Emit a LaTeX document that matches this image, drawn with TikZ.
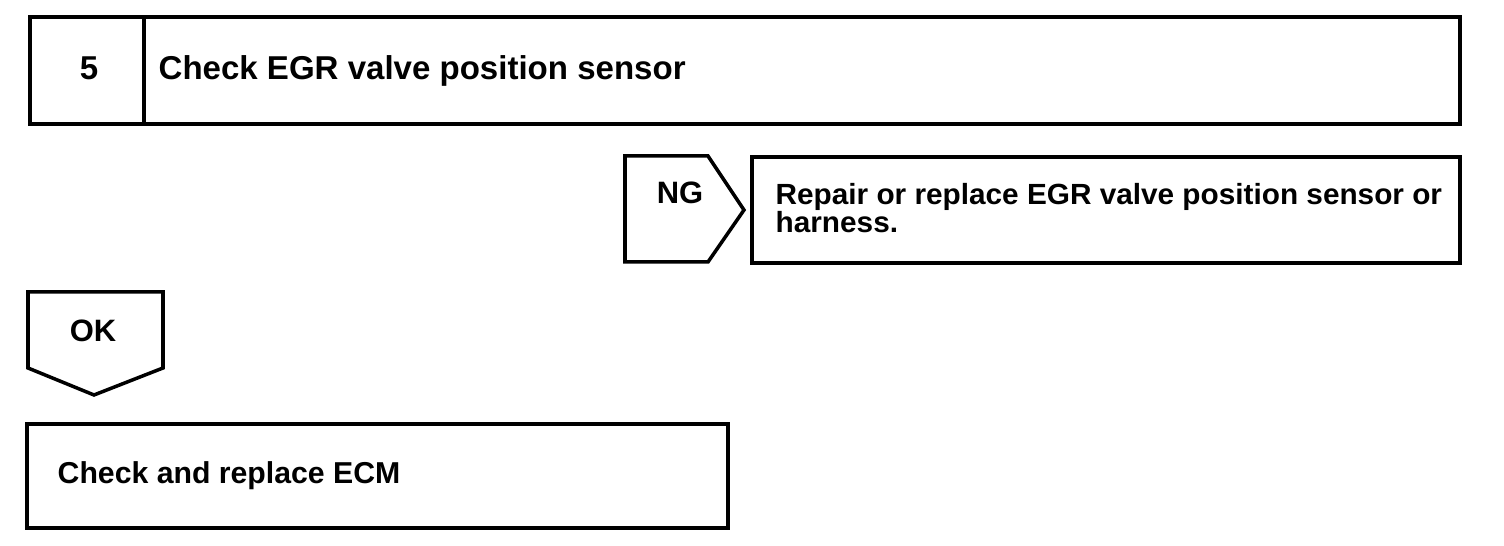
\documentclass[tikz,border=0pt]{standalone}
\usepackage{fontspec}
\setmainfont{Liberation Sans}
\usetikzlibrary{positioning}
\tikzset{font=\bfseries\fontsize{9.4}{11}\selectfont}
\tikzset{frame/.style={line width=1pt,line join=miter}}
\tikzset{label/.style={inner sep=0pt,anchor=base west}}
\tikzset{tag/.style={inner sep=0pt,anchor=base,font=\bfseries\fontsize{8.8}{10}\selectfont}}
\tikzset{small/.style={font=\bfseries\fontsize{8.3}{7.7}\selectfont}}

\begin{document}
\begin{tikzpicture}[x=0.1mm,y=-0.1mm]
  \useasboundingbox (0,0) rectangle (1504,546);
  % step 5
  \draw[frame] (30,17) rectangle (1460,124);
  \draw[frame] (144,17) -- (144,124);
  \node[inner sep=0pt,anchor=base] (num) at (89,80) {5};
  \node[label] (check) at (158,80) {Check EGR valve position sensor};
  % NG branch
  \draw[frame] (625,156) -- (708,156) -- (744,210) -- (708,262) -- (625,262) -- cycle;
  \node[tag] (ng) at (680,204) {NG};
  \draw[frame] (752,157) rectangle (1460,263);
  \node[label,small] (repair) at (775,205)
    {\scalebox{1.02}[1]{Repair or replace EGR valve position sensor or}};
  \node[label,small] (harness) at (775,233)
    {\scalebox{1.02}[1]{harness.}};
  % OK branch
  \draw[frame] (28,292) -- (163,292) -- (163,368) -- (94,395) -- (28,368) -- cycle;
  \node[tag] (ok) at (93,342) {OK};
  \draw[frame] (27,424) rectangle (728,528);
  \node[label,font=\bfseries\fontsize{8.6}{10}\selectfont] (ecm) at (57,484) {Check and replace ECM};
\end{tikzpicture}
\end{document}
